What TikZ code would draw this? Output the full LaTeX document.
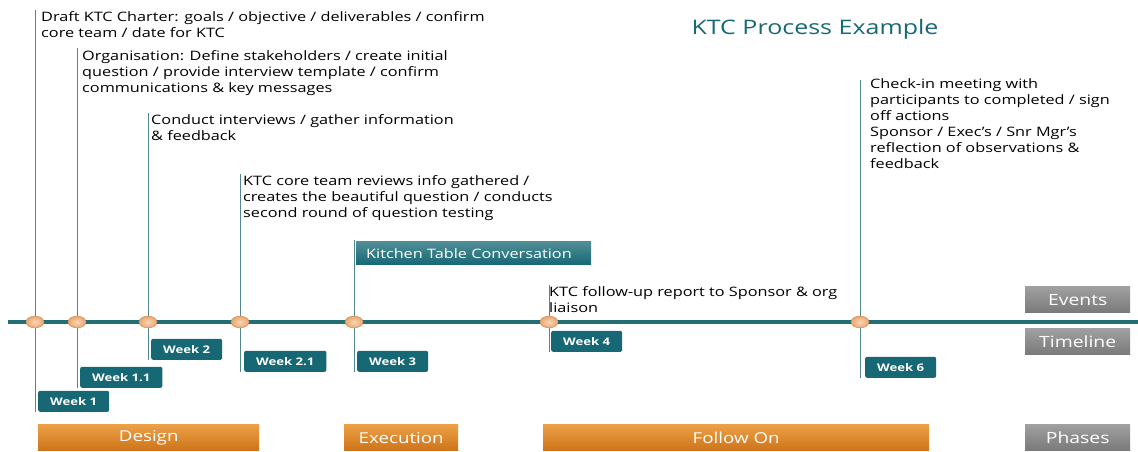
\documentclass[tikz,border=0pt]{standalone}
\usepackage{fontspec}
\setmainfont{Open Sans}[FakeStretch=1.25]
\usetikzlibrary{shapes.geometric,positioning}
\definecolor{ktcteal}{RGB}{22,104,116}
\definecolor{stemcol}{RGB}{80,135,145}
\definecolor{linecol}{RGB}{35,110,115}
\definecolor{dotcol}{RGB}{236,165,105}
\definecolor{phasetop}{RGB}{236,160,70}
\definecolor{phasebot}{RGB}{205,115,25}
\tikzset{
  note/.style={anchor=north west, align=left, inner sep=0pt, font=\fontsize{13}{16}\selectfont},
  stem/.style={draw=stemcol, line width=0.8pt},
  weekbox/.style={anchor=south west, fill=ktcteal, rounded corners=2pt, text=white,
    font=\fontsize{10.5}{12}\selectfont\bfseries, minimum height=21pt, inner xsep=12pt},
  milestone/.style={ellipse, minimum width=18pt, minimum height=12pt, inner sep=0pt,
    inner color=white!55!dotcol, outer color=dotcol, draw=dotcol!80!black, line width=0.3pt},
  phase/.style={anchor=south west, minimum height=26pt, top color=phasetop, bottom color=phasebot,
    text=white, font=\fontsize{15}{17}\selectfont},
  tag/.style={anchor=south west, minimum height=26pt, minimum width=105pt, top color=gray!75,
    bottom color=gray!95!black, text=white, font=\fontsize{15.5}{17}\selectfont},
  event/.style={anchor=south west, minimum height=23pt, text width=215pt, inner xsep=10pt,
    align=left, top color=ktcteal!75, bottom color=ktcteal, text=white, font=\fontsize{13}{14}\selectfont}
}
\begin{document}
\begin{tikzpicture}[x=1pt,y=-1pt]
  \useasboundingbox (0,0) rectangle (1138,451);
  % title
  \node[text=ktcteal, font=\fontsize{20}{22}\selectfont] (ttl) at (815,29) {KTC Process Example};
  % events text
  \node[note] (n1) at (41,11) {Draft KTC Charter: goals / objective / deliverables / confirm\\core team / date for KTC};
  \node[note] (n2) at (82,50) {Organisation: Define stakeholders / create initial\\question / provide interview template / confirm\\communications \& key messages};
  \node[note] (n3) at (151,114) {Conduct interviews / gather information\\\& feedback};
  \node[note] (n4) at (243,175) {KTC core team reviews info gathered /\\creates the beautiful question / conducts\\second round of question testing};
  \node[event] (ktc) at (356,265) {Kitchen Table Conversation};
  \node[note] (n6) at (549,286) {KTC follow-up report to Sponsor \& org\\liaison};
  \node[note] (n7) at (870,78) {Check-in meeting with\\participants to completed / sign\\off actions\\Sponsor / Exec's / Snr Mgr's\\reflection of observations \&\\feedback};
  % week boxes
  \node[weekbox] (w1) at (38,412) {Week 1};
  \node[weekbox] (w2) at (80,388) {Week 1.1};
  \node[weekbox] (w3) at (151,360) {Week 2};
  \node[weekbox] (w4) at (244,372) {Week 2.1};
  \node[weekbox] (w5) at (357,372) {Week 3};
  \node[weekbox] (w6) at (551,352) {Week 4};
  \node[weekbox] (w7) at (865,378) {Week 6};
  % stems
  \coordinate (s1) at (35,10);
  \coordinate (s2) at (77,48);
  \coordinate (s3) at (148,113);
  \coordinate (s4) at (240,174);
  \coordinate (s5) at (354,240);
  \coordinate (s6) at (549,285);
  \coordinate (s7) at (860,80);
  \draw[stem] (s1) -- (s1 |- w1.south);
  \draw[stem] (s2) -- (s2 |- w2.south);
  \draw[stem] (s3) -- (s3 |- w3.south);
  \draw[stem] (s4) -- (s4 |- w4.south);
  \draw[stem] (s5) -- (s5 |- w5.south);
  \draw[stem] (s6) -- (s6 |- w6.south);
  \draw[stem] (s7) -- (s7 |- w7.south);
  % timeline
  \coordinate (tl0) at (8,322);
  \coordinate (tl1) at (1138,322);
  \draw[linecol, line width=4pt] (tl0) -- (tl1);
  \node[milestone] (d1) at (s1 |- tl0) {};
  \node[milestone] (d2) at (s2 |- tl0) {};
  \node[milestone] (d3) at (s3 |- tl0) {};
  \node[milestone] (d4) at (s4 |- tl0) {};
  \node[milestone] (d5) at (s5 |- tl0) {};
  \node[milestone] (d6) at (s6 |- tl0) {};
  \node[milestone] (d7) at (s7 |- tl0) {};
  % phases
  \node[phase, minimum width=221pt] (p1) at (38,451) {Design};
  \node[phase, minimum width=114pt] (p2) at (344,451) {Execution};
  \node[phase, minimum width=386pt] (p3) at (543,451) {Follow On};
  % legend
  \node[tag] (g1) at (1025,313) {Events};
  \node[tag] (g2) at (1025,355) {Timeline};
  \node[tag] (g3) at (1025,451) {Phases};
\end{tikzpicture}
\end{document}
